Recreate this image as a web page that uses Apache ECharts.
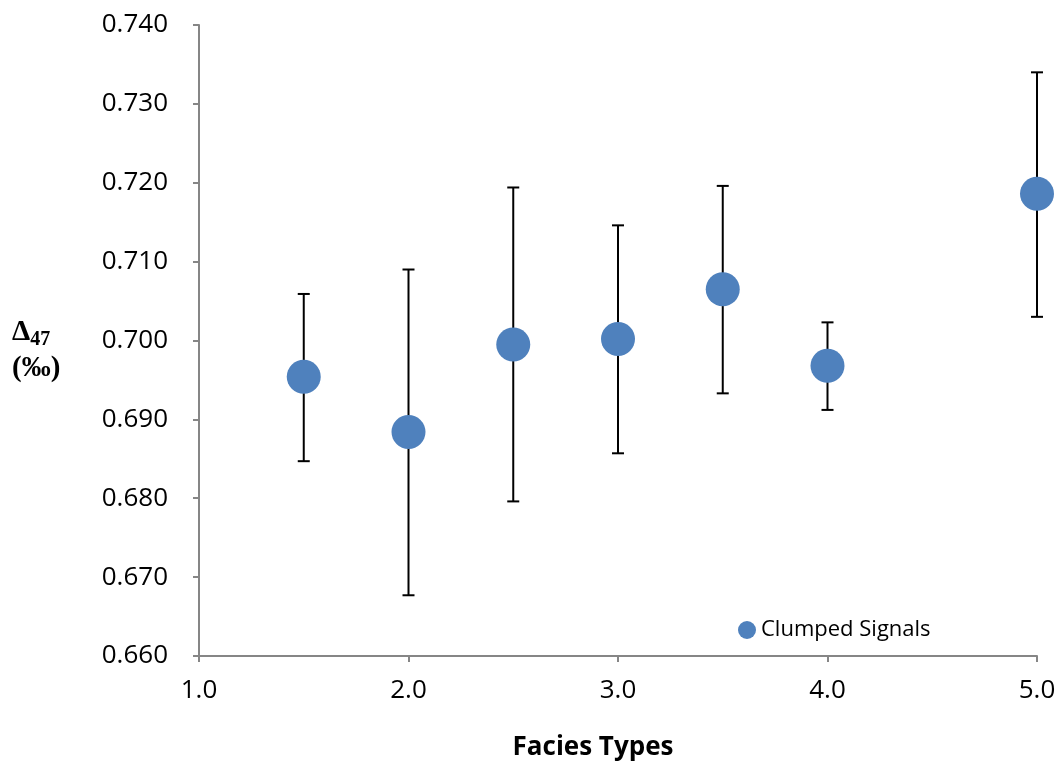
<!DOCTYPE html>
<html>
<head>
<meta charset="utf-8">
<script src="https://cdn.jsdelivr.net/npm/echarts@6/dist/echarts.min.js"></script>
<style>html,body{margin:0;padding:0;background:#fff;}#c{width:1060px;height:765px;}</style>
</head>
<body>
<div id="c"></div>
<script>
const faciesX = [1.5, 2.0, 2.5, 3.0, 3.5, 4.0, 5.0];
const d47 = [0.6954, 0.6884, 0.6995, 0.7002, 0.7065, 0.6968, 0.7186];
const errHigh = [0.7059, 0.7090, 0.7194, 0.7146, 0.7196, 0.7023, 0.7340];
const errLow = [0.6847, 0.6677, 0.6796, 0.6857, 0.6933, 0.6912, 0.7030];
const seriesName = 'Clumped Signals';
const xTitle = 'Facies Types';

const chart = echarts.init(document.getElementById('c'));
const font = 'Open Sans, Noto Sans, sans-serif';
const serif = 'Liberation Serif, Times New Roman, serif';
const axisCol = '#868686';

chart.setOption({
  animation: false,
  grid: {left: 199, right: 23, top: 25, bottom: 109},
  legend: {
    data: [{name: seriesName, icon: 'circle'}],
    left: 733, top: 614, itemWidth: 18, itemHeight: 18, itemGap: 4,
    textStyle: {fontFamily: font, fontSize: 22, color: '#000'}
  },
  xAxis: {
    type: 'value', min: 1, max: 5, interval: 1,
    axisLine: {onZero: false, lineStyle: {color: axisCol, width: 2}},
    axisTick: {length: 6, lineStyle: {color: axisCol, width: 2}},
    splitLine: {show: false},
    axisLabel: {formatter: v => v.toFixed(1), fontFamily: font, fontSize: 26, color: '#000', margin: 22}
  },
  yAxis: {
    type: 'value', min: 0.66, max: 0.74, interval: 0.01,
    axisLine: {show: true, onZero: false, lineStyle: {color: axisCol, width: 2}},
    axisTick: {show: true, length: 6, lineStyle: {color: axisCol, width: 2}},
    splitLine: {show: false},
    axisLabel: {formatter: v => v.toFixed(3), fontFamily: font, fontSize: 26, color: '#000', margin: 31}
  },
  graphic: [{
    type: 'text', left: 12, top: 316,
    style: {
      text: '{d|Δ}{s|47}\n{p|(‰)}',
      align: 'center',
      rich: {
        d: {fontFamily: serif, fontWeight: 'bold', fontSize: 29, fill: '#000', lineHeight: 34},
        s: {fontFamily: serif, fontWeight: 'bold', fontSize: 20, fill: '#000', verticalAlign: 'bottom', padding: [14, 0, 0, 0], lineHeight: 34},
        p: {fontFamily: serif, fontWeight: 'bold', fontSize: 29, fill: '#000', lineHeight: 38}
      }
    }
  }, {
    type: 'text', x: 593, y: 748,
    style: {
      text: xTitle, align: 'center', verticalAlign: 'middle',
      fontFamily: font, fontSize: 26, fontWeight: 'bold', fill: '#000'
    }
  }],
  series: [
    {
      type: 'custom', name: 'err', silent: true, z: 1,
      data: faciesX.map((x, i) => [x, errLow[i], errHigh[i]]),
      renderItem: function (params, api) {
        const x = api.value(0);
        const lo = api.coord([x, api.value(1)]);
        const hi = api.coord([x, api.value(2)]);
        const cap = 6;
        const st = {stroke: '#000', lineWidth: 2};
        return {
          type: 'group',
          children: [
            {type: 'line', shape: {x1: lo[0], y1: lo[1], x2: hi[0], y2: hi[1]}, style: st},
            {type: 'line', shape: {x1: hi[0] - cap, y1: hi[1], x2: hi[0] + cap, y2: hi[1]}, style: st},
            {type: 'line', shape: {x1: lo[0] - cap, y1: lo[1], x2: lo[0] + cap, y2: lo[1]}, style: st}
          ]
        };
      }
    },
    {
      type: 'scatter', name: seriesName, z: 3,
      symbol: 'circle', symbolSize: 34,
      itemStyle: {color: '#4F81BD', opacity: 1},
      data: faciesX.map((x, i) => [x, d47[i]])
    }
  ]
});
</script>
</body>
</html>
